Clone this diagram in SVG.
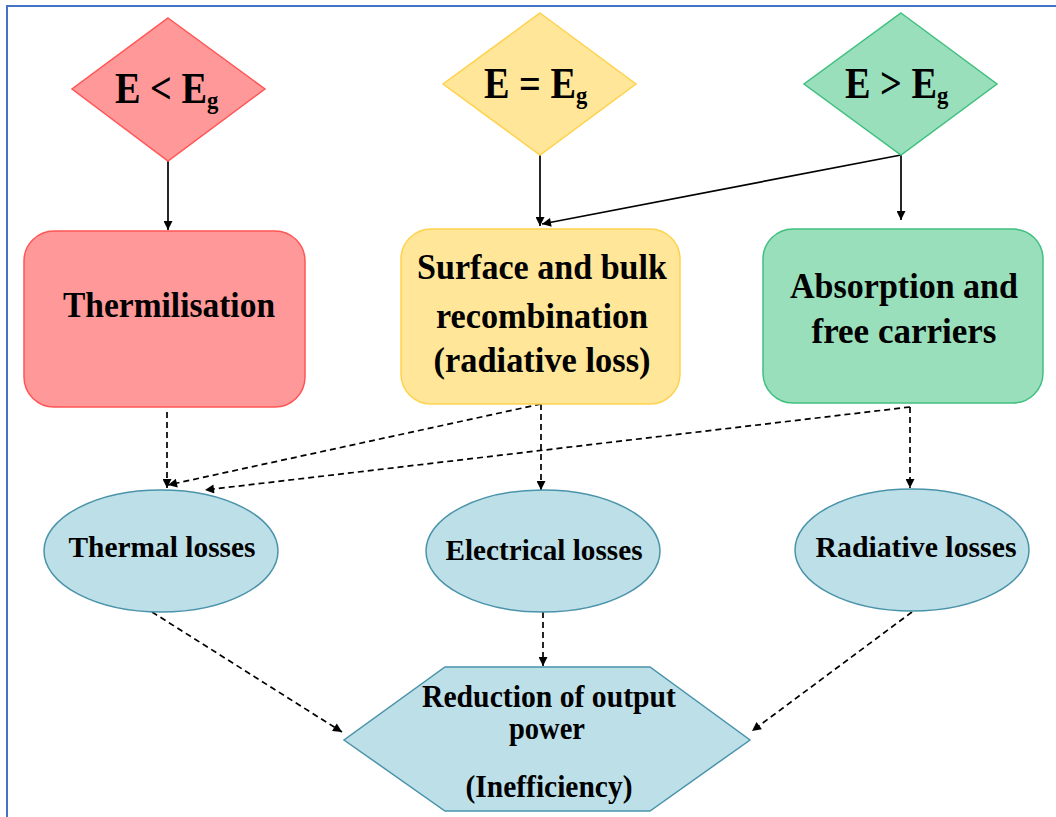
<svg xmlns="http://www.w3.org/2000/svg" width="1056" height="817" viewBox="0 0 1056 817">
<style>
text{font-family:"Liberation Serif","Times New Roman",serif;font-weight:bold;fill:#000;text-anchor:middle}
.dt{font-size:44px;text-anchor:start}
.sub{font-size:26px}
.bt{font-size:36px}
.et{font-size:29px}
.ht{font-size:31px}
.solid{stroke:#000;stroke-width:1.7;fill:none;marker-end:url(#ah)}
.dash{stroke:#000;stroke-width:1.7;fill:none;stroke-dasharray:6 4;marker-end:url(#ah)}
.blue{fill:#bde0e8;stroke:#4a93aa;stroke-width:1.5}
</style>
<defs>
<marker id="ah" viewBox="0 0 10 10" refX="10" refY="5" markerWidth="16" markerHeight="9" markerUnits="userSpaceOnUse" orient="auto">
<path d="M0,0 L10,5 L0,10 z" fill="#000"/>
</marker>
</defs>
<rect x="0" y="0" width="1056" height="817" fill="#fff"/>
<rect x="7" y="6" width="1070" height="830" fill="none" stroke="#4472c4" stroke-width="2"/>

<g id="connectors">
<line class="solid" x1="168" y1="161" x2="168" y2="230"/>
<line class="solid" x1="540" y1="150" x2="540" y2="226"/>
<line class="solid" x1="901" y1="155" x2="542" y2="224"/>
<line class="solid" x1="901" y1="155" x2="901" y2="220"/>
<line class="dash" x1="167" y1="412" x2="167" y2="488"/>
<line class="dash" x1="541" y1="404" x2="168" y2="485"/>
<line class="dash" x1="910" y1="407" x2="205" y2="490"/>
<line class="dash" x1="541" y1="404" x2="541" y2="490"/>
<line class="dash" x1="910" y1="407" x2="910" y2="488"/>
<line class="dash" x1="152" y1="612" x2="342" y2="732"/>
<line class="dash" x1="543" y1="612" x2="543" y2="666"/>
<line class="dash" x1="912" y1="612" x2="752" y2="731"/>
</g>

<g id="n_lt">
<polygon points="168,18 265,89 168,161 72,89" fill="#ff9999" stroke="#ff5555" stroke-width="1.5"/>
<text class="dt" transform="translate(115,103) scale(0.87,1)">E &lt; E<tspan class="sub" dy="6">g</tspan></text>
</g>
<g id="n_eq">
<polygon points="540,13 636,84 540,155 443,84" fill="#ffe699" stroke="#ffd24d" stroke-width="1.5"/>
<text class="dt" transform="translate(484,98) scale(0.87,1)">E = E<tspan class="sub" dy="6">g</tspan></text>
</g>
<g id="n_gt">
<polygon points="901,13 997,84 901,155 804,84" fill="#99dfbb" stroke="#40c080" stroke-width="1.5"/>
<text class="dt" transform="translate(845,98) scale(0.87,1)">E &gt; E<tspan class="sub" dy="6">g</tspan></text>
</g>

<g id="n_therm">
<rect x="24" y="231" width="281" height="176" rx="30" fill="#ff9999" stroke="#ff5555" stroke-width="1.5"/>
<text class="bt" x="169" y="317" textLength="212" lengthAdjust="spacingAndGlyphs">Thermilisation</text>
</g>
<g id="n_surf">
<rect x="401" y="229" width="279" height="175" rx="30" fill="#ffe699" stroke="#ffd24d" stroke-width="1.5"/>
<text class="bt" x="542" y="279" textLength="250" lengthAdjust="spacingAndGlyphs">Surface and bulk</text>
<text class="bt" x="542" y="328" textLength="212" lengthAdjust="spacingAndGlyphs">recombination</text>
<text class="bt" x="542" y="372" textLength="217" lengthAdjust="spacingAndGlyphs">(radiative loss)</text>
</g>
<g id="n_abs">
<rect x="763" y="229" width="280" height="174" rx="30" fill="#99dfbb" stroke="#40c080" stroke-width="1.5"/>
<text class="bt" x="904" y="298" textLength="228" lengthAdjust="spacingAndGlyphs">Absorption and</text>
<text class="bt" x="904" y="343" textLength="185" lengthAdjust="spacingAndGlyphs">free carriers</text>
</g>

<g id="n_thl">
<ellipse class="blue" cx="161" cy="551" rx="117" ry="61"/>
<text class="et" x="162" y="557" textLength="187" lengthAdjust="spacingAndGlyphs">Thermal losses</text>
</g>
<g id="n_ell">
<ellipse class="blue" cx="543" cy="551" rx="117" ry="61"/>
<text class="et" x="544" y="560" textLength="197" lengthAdjust="spacingAndGlyphs">Electrical losses</text>
</g>
<g id="n_rad">
<ellipse class="blue" cx="912" cy="550" rx="117" ry="61"/>
<text class="et" x="916" y="557" textLength="201" lengthAdjust="spacingAndGlyphs">Radiative losses</text>
</g>

<g id="n_red">
<polygon class="blue" points="445,667 650,667 750,740 650,811 445,811 344,740"/>
<text class="ht" x="549" y="707" textLength="254" lengthAdjust="spacingAndGlyphs">Reduction of output</text>
<text class="ht" x="547" y="739" textLength="76" lengthAdjust="spacingAndGlyphs">power</text>
<text class="ht" x="549" y="797" textLength="167" lengthAdjust="spacingAndGlyphs">(Inefficiency)</text>
</g>
</svg>
